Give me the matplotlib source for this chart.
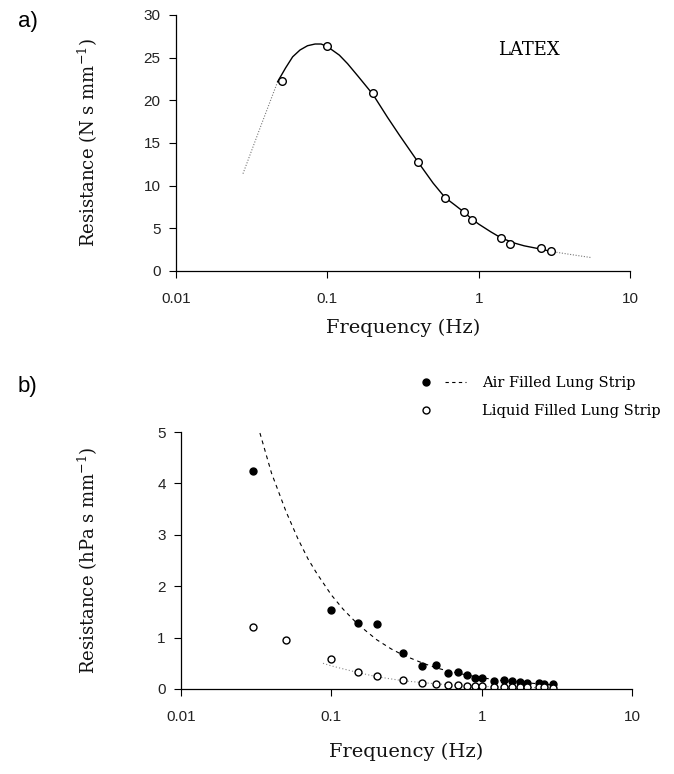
import numpy as np
import matplotlib
matplotlib.use("Agg")
import matplotlib.pyplot as plt
from matplotlib.lines import Line2D
from matplotlib.legend_handler import HandlerTuple

# --- (a) latex strip: measured points and fitted curve
latex_freq = [0.05, 0.1, 0.2, 0.4, 0.6, 0.8, 0.9, 1.4, 1.6, 2.6, 3.0]
latex_res = [22.3, 26.4, 20.9, 12.8, 8.6, 6.9, 6.0, 3.9, 3.2, 2.7, 2.3]

latex_fit_freq = [0.047, 0.053, 0.059, 0.066, 0.074, 0.083, 0.091, 0.1, 0.12,
                  0.136, 0.16, 0.2, 0.25, 0.3, 0.4, 0.5, 0.6, 0.7, 0.8, 0.9,
                  1.0, 1.2, 1.4, 1.7, 2.0, 2.6, 3.0]
latex_fit_res = [22.2, 23.8, 25.1, 25.9, 26.4, 26.6, 26.6, 26.3, 25.3,
                 24.3, 22.8, 20.7, 18.0, 15.9, 12.7, 10.3, 8.6, 7.7, 6.9, 6.1,
                 5.5, 4.6, 3.9, 3.3, 2.95, 2.55, 2.3]
latex_ext_lo_freq = [0.0277, 0.036, 0.047]
latex_ext_lo_res = [11.4, 16.8, 22.2]
latex_ext_hi_freq = [3.0, 4.0, 5.6]
latex_ext_hi_res = [2.3, 1.95, 1.56]

# --- (b) lung strips
air_freq = [0.03, 0.1, 0.15, 0.2, 0.3, 0.4, 0.5, 0.6, 0.7, 0.8, 0.9, 1.0,
            1.2, 1.4, 1.6, 1.8, 2.0, 2.4, 2.6, 3.0]
air_res = [4.25, 1.54, 1.28, 1.26, 0.70, 0.45, 0.47, 0.31, 0.34, 0.28, 0.21,
           0.21, 0.16, 0.17, 0.16, 0.14, 0.12, 0.11, 0.10, 0.09]

liq_freq = [0.03, 0.05, 0.1, 0.15, 0.2, 0.3, 0.4, 0.5, 0.6, 0.7, 0.8, 0.9,
            1.0, 1.2, 1.4, 1.6, 1.8, 2.0, 2.4, 2.6, 3.0]
liq_res = [1.20, 0.955, 0.58, 0.33, 0.26, 0.17, 0.12, 0.09, 0.07, 0.07, 0.06,
           0.06, 0.05, 0.04, 0.04, 0.04, 0.04, 0.03, 0.03, 0.03, 0.02]

air_fit_freq = [0.0335, 0.04, 0.05, 0.06, 0.07, 0.08, 0.1, 0.12, 0.15, 0.2,
                0.25, 0.3, 0.4, 0.5, 0.6, 0.8, 1.0, 1.3, 1.7, 2.2, 3.0]
air_fit_res = [4.98, 4.20, 3.45, 2.92, 2.53, 2.25, 1.83, 1.55, 1.26, 0.96,
               0.78, 0.66, 0.51, 0.41, 0.35, 0.27, 0.22, 0.17, 0.14, 0.11, 0.08]
liq_fit_freq = [0.088, 0.1, 0.15, 0.2, 0.3, 0.5, 0.7, 1.0, 1.5, 2.0, 3.0]
liq_fit_res = [0.50, 0.45, 0.32, 0.24, 0.16, 0.10, 0.07, 0.05, 0.035, 0.03, 0.02]

xticks = [0.01, 0.1, 1, 10]
xticklabels = ["0.01", "0.1", "1", "10"]

plt.rcParams["mathtext.fontset"] = "dejavuserif"
serif = "DejaVu Serif"
tick_font = "Liberation Sans"

W, H = 674, 774
fig = plt.figure(figsize=(W / 100, H / 100), dpi=100)


def style_axes(ax, ymax, ystep):
    ax.set_xscale("log")
    ax.set_xlim(0.01, 10)
    ax.set_ylim(0, ymax)
    ax.set_xticks(xticks)
    ax.set_xticklabels(xticklabels)
    ax.minorticks_off()
    ax.set_yticks(np.arange(0, ymax + ystep / 2, ystep))
    ax.spines["top"].set_visible(False)
    ax.spines["right"].set_visible(False)
    for s in ("left", "bottom"):
        ax.spines[s].set_linewidth(0.9)
    ax.tick_params(direction="out", length=5, width=0.8, labelsize=11)
    ax.tick_params(axis="x", pad=10)
    ax.tick_params(axis="y", pad=6)
    for lab in ax.get_xticklabels() + ax.get_yticklabels():
        lab.set_family(tick_font)
        lab.set_color("#222222")
    ax.set_xlabel("Frequency (Hz)", family=serif, fontsize=14, color="#111111")


# panel a
ax_a = fig.add_axes([176 / W, 1 - 271 / H, (630 - 176) / W, (271 - 15) / H])
ax_a.plot(latex_ext_lo_freq, latex_ext_lo_res, color="#777777", lw=0.8, ls=(0, (1, 1.5)))
ax_a.plot(latex_ext_hi_freq, latex_ext_hi_res, color="#777777", lw=0.8, ls=(0, (1, 1.5)))
ax_a.plot(latex_fit_freq, latex_fit_res, color="black", lw=1.0)
ax_a.plot(latex_freq, latex_res, "o", ms=5.5, mfc="white", mec="black", mew=1.0)
style_axes(ax_a, 30, 5)
ax_a.set_ylabel("Resistance (N s mm$^{-1}$)", family=serif, fontsize=13, color="#111111")
ax_a.yaxis.set_label_coords((100 - 176) / 454, 0.5)
ax_a.xaxis.set_label_coords(0.5, -(319 - 271) / 256)
ax_a.text(0.71, 0.845, "LATEX", transform=ax_a.transAxes, family=serif, fontsize=13)

# panel b
ax_b = fig.add_axes([181 / W, 1 - 689 / H, (632 - 181) / W, (689 - 432) / H])
ax_b.plot(air_fit_freq, air_fit_res, color="black", lw=0.8, ls=(0, (3.5, 3.5)))
ax_b.plot(liq_fit_freq, liq_fit_res, color="#888888", lw=0.8, ls=(0, (1, 2)))
ax_b.plot(air_freq, air_res, "o", ms=5, mfc="black", mec="black")
ax_b.plot(liq_freq, liq_res, "o", ms=5, mfc="white", mec="black", mew=1.0)
style_axes(ax_b, 5, 1)
ax_b.set_ylabel("Resistance (hPa s mm$^{-1}$)", family=serif, fontsize=13, color="#111111")
ax_b.yaxis.set_label_coords((100 - 181) / 451, 0.5)
ax_b.xaxis.set_label_coords(0.5, -(743 - 689) / 257)

air_handle = (Line2D([], [], marker="o", ms=5, color="black", ls="none"),
              Line2D([], [], color="black", lw=0.8, ls=(0, (3, 3))))
liq_handle = (Line2D([], [], marker="o", ms=5, mfc="white", mec="black", ls="none"),
              Line2D([], [], color="none"))
ax_b.legend([air_handle, liq_handle],
            ["Air Filled Lung Strip", "Liquid Filled Lung Strip"],
            handler_map={tuple: HandlerTuple(ndivide=None, pad=0.6)},
            loc="upper left", bbox_to_anchor=(416 / W, 1 - 376 / H),
            bbox_transform=fig.transFigure, frameon=False,
            handlelength=3.4, handletextpad=1.1, labelspacing=0.95,
            borderaxespad=0, borderpad=0, prop=dict(family=serif, size=10.5))

fig.text(18 / W, 1 - 22 / H, "a)", family="Liberation Sans", fontsize=16, va="center")
fig.text(18 / W, 1 - 386 / H, "b)", family="Liberation Sans", fontsize=16, va="center")

fig.savefig("out.png", dpi=100, facecolor="white")
